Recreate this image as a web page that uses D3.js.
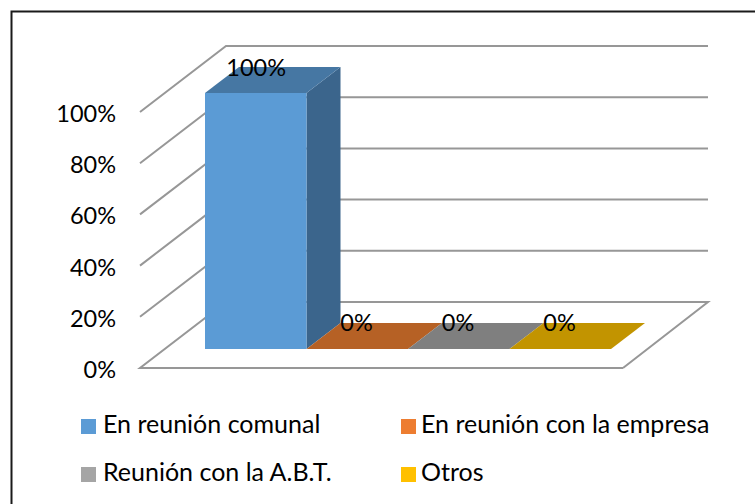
<!DOCTYPE html>
<html><head><meta charset="utf-8">
<script src="https://cdn.jsdelivr.net/npm/d3@7/dist/d3.min.js"></script>
<style>html,body{margin:0;padding:0;background:#fff}svg{display:block}text{font-family:Lato,Carlito,sans-serif;fill:#000}</style>
</head><body><svg id="c" width="755" height="504"></svg>
<script>
const categories=["En reunión comunal","En reunión con la empresa","Reunión con la A.B.T.","Otros"];
const values=[1,0,0,0];
const valueLabels=["100%","0%","0%","0%"];
const ticks=[0,0.2,0.4,0.6,0.8,1];
const frontColors=["#5B9BD5","#B66125","#7F7F7F","#C29400"];
const topColors=["#4677A3","#B66125","#7F7F7F","#C29400"];
const sideColor="#3B658C";
const legendColors=["#5B9BD5","#ED7D31","#A5A5A5","#FFC000"];

const svg=d3.select("#c");
const W=755,H=504;
svg.append("rect").attr("x",11.5).attr("y",11.5).attr("width",W+20).attr("height",H+20).attr("fill","#fff").attr("stroke","#1a1a1a").attr("stroke-width",2);

const y=d3.scaleLinear().domain([0,1]).range([368,112]);
const floorX=d3.scaleLinear().domain([0,1]).range([140,623]);
const wallDepth={dx:86,dy:-66};
const barInset={y:-19};
const barDepth={dx:34,dy:-26};
const x=d3.scaleBand().domain(categories).range([205,611]).padding(0);
const line=d3.line();
const gridC="#979797";

const g=svg.append("g").attr("fill","none").attr("stroke",gridC).attr("stroke-width",2);
ticks.forEach(t=>{
  const a=[floorX(0),y(t)],b=[floorX(0)+wallDepth.dx,y(t)+wallDepth.dy],c=[708,y(t)+wallDepth.dy];
  g.append("path").attr("d",line(t===0?[[floorX(1),y(0)],a,b,c,[floorX(1),y(0)]]:[a,b,c]));
});

const by=v=>y(v)+barInset.y;
categories.forEach((cat,i)=>{
  const x0=x(cat),x1=x0+x.bandwidth(),top=by(values[i]),base=by(0),d=barDepth;
  const gg=svg.append("g");
  if(values[i]>0){
    gg.append("path").attr("fill",sideColor).attr("d",line([[x1,top],[x1+d.dx,top+d.dy],[x1+d.dx,base+d.dy],[x1,base]])+"Z");
    gg.append("path").attr("fill",frontColors[i]).attr("d",line([[x0,top],[x1,top],[x1,base],[x0,base]])+"Z");
  }
  gg.append("path").attr("fill",topColors[i]).attr("d",line([[x0,top],[x0+d.dx,top+d.dy],[x1+d.dx,top+d.dy],[x1,top]])+"Z");
});

categories.forEach((cat,i)=>{
  svg.append("text").attr("x",x(cat)+x.bandwidth()/2+(i===0?-29.5:-17)).attr("y",by(values[i])-17+(i===0?0:-1)).attr("font-size",23.5).text(valueLabels[i]);
});

const axis=d3.axisLeft(y).tickValues(ticks).tickFormat(d3.format(".0%")).tickSize(0).tickPadding(0);
const ag=svg.append("g").attr("transform","translate(116,2)").call(axis);
ag.select(".domain").remove();
ag.selectAll("text").attr("font-size",23.5).attr("font-family","Lato,Carlito,sans-serif").attr("fill","#000");

const legX=[81,401], legY=[425,473], legPad=[22,20];
categories.forEach((cat,i)=>{
  const col=i%2, cx=legX[col], cy=legY[Math.floor(i/2)];
  svg.append("rect").attr("x",cx).attr("y",cy-6).attr("width",15).attr("height",15).attr("fill",legendColors[i]);
  svg.append("text").attr("x",cx+legPad[col]).attr("y",cy+8).attr("font-size",25).text(cat);
});
</script></body></html>
